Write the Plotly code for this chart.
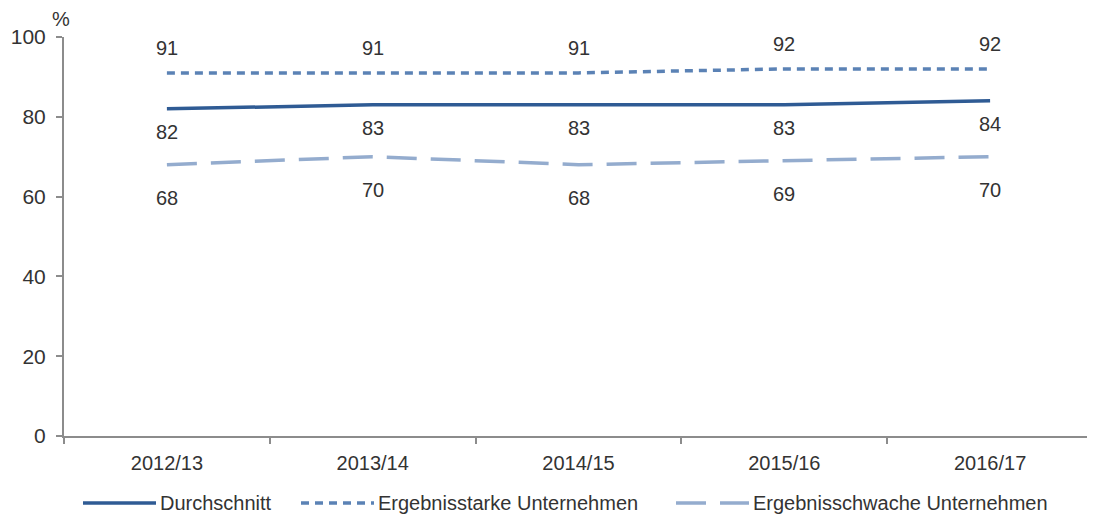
import plotly.graph_objects as go

years = ["2012/13", "2013/14", "2014/15", "2015/16", "2016/17"]
durchschnitt = [82, 83, 83, 83, 84]
ergebnisstark = [91, 91, 91, 92, 92]
ergebnisschwach = [68, 70, 68, 69, 70]

series_names = ["Durchschnitt", "Ergebnisstarke Unternehmen", "Ergebnisschwache Unternehmen"]
colors = ["#2f5b94", "#5b82b5", "#94acce"]
dashes = ["solid", "8px,6px", "30px,14px"]

FONT = "Liberation Sans, Arial, sans-serif"
TXT = "#333333"

# the page body has an 8px margin, so the figure is drawn 8px smaller
W, H = 1087, 511
ML, MR, MT, MB = 56, 2, 29, 83

fig = go.Figure()

for name, vals, c, d in zip(series_names, [durchschnitt, ergebnisstark, ergebnisschwach], colors, dashes):
    fig.add_trace(go.Scatter(
        x=years, y=vals, name=name, mode="lines",
        line=dict(color=c, width=3.5, dash=d), showlegend=False
    ))

# value labels
for series, shift in [(ergebnisstark, 25), (durchschnitt, -23), (ergebnisschwach, -33)]:
    for yr, v in zip(years, series):
        fig.add_annotation(x=yr, y=v, text=str(v), showarrow=False, yshift=shift,
                           font=dict(size=20, color=TXT, family=FONT))

fig.add_annotation(x=0, y=1, xref="paper", yref="paper", text="%", showarrow=False,
                   xanchor="center", yanchor="middle", xshift=-3, yshift=18,
                   font=dict(size=20, color=TXT, family=FONT))

# legend drawn by hand (longer line samples than plotly's legend)
plot_w = W - ML - MR
plot_h = H - MT - MB
plot_b = H - MB
leg_y = (plot_b - 495) / plot_h
leg_starts = [75, 293, 668]
for name, c, d, x0 in zip(series_names, colors, dashes, leg_starts):
    fig.add_shape(type="line", xref="paper", yref="paper",
                  x0=(x0 - ML) / plot_w, x1=(x0 + 73 - ML) / plot_w, y0=leg_y, y1=leg_y,
                  line=dict(color=c, width=3.5, dash=d))
    fig.add_annotation(x=(x0 + 75 - ML) / plot_w, y=leg_y, xref="paper", yref="paper",
                       text=name, showarrow=False, xanchor="left", yanchor="middle",
                       font=dict(size=20, color=TXT, family=FONT))

fig.update_layout(
    width=W, height=H,
    margin=dict(l=ML, r=MR, t=MT, b=MB),
    plot_bgcolor="white", paper_bgcolor="white",
    font=dict(family=FONT, size=20, color=TXT),
    showlegend=False,
    xaxis=dict(
        type="category", range=[-0.5, 4.5], tickson="boundaries", automargin=False,
        showline=True, linecolor="#8c8c8c", linewidth=2,
        ticks="outside", ticklen=6, tickcolor="#8c8c8c", tickwidth=2,
        ticklabelstandoff=8,
        showgrid=False, zeroline=False,
        tickfont=dict(size=20, color=TXT)
    ),
    yaxis=dict(
        range=[0, 100], tickvals=[0, 20, 40, 60, 80, 100], automargin=False,
        showline=True, linecolor="#8c8c8c", linewidth=2,
        ticks="outside", ticklen=6, tickcolor="#8c8c8c", tickwidth=2,
        ticklabelstandoff=6,
        showgrid=False, zeroline=False,
        tickfont=dict(size=21, color=TXT)
    ),
)

fig.write_html("out.html")
